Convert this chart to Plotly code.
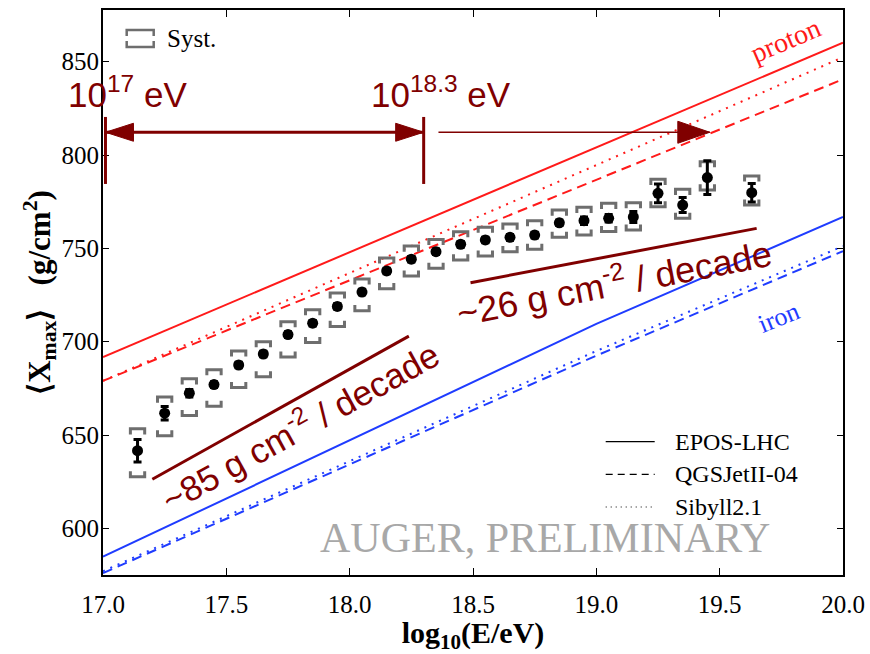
import plotly.graph_objects as go

# ---------------- data ----------------
log_e = [17.14, 17.25, 17.35, 17.45, 17.55, 17.65, 17.75, 17.85, 17.95, 18.05,
         18.15, 18.25, 18.35, 18.45, 18.55, 18.65, 18.75, 18.85, 18.95, 19.05,
         19.15, 19.25, 19.35, 19.45, 19.63]
xmax_mean = [641.6, 661.7, 672.4, 677.0, 687.5, 693.4, 703.8, 709.9, 718.9, 726.6,
             737.9, 744.2, 748.2, 752.2, 754.5, 755.9, 757.1, 763.7, 764.8, 766.1,
             766.8, 779.5, 773.2, 787.9, 779.8]
stat_err = [6.0, 3.6, 2.0, 1.5, 1.5, 1.5, 1.5, 1.5, 1.5, 1.5,
            1.5, 1.5, 1.5, 1.5, 1.5, 1.5, 1.5, 1.5, 2.0, 2.0,
            3.0, 5.0, 4.0, 9.0, 5.0]
sys_up = [11.7, 8.6, 7.7, 8.0, 7.5, 6.6, 6.9, 7.2, 7.2, 7.0,
          7.0, 7.0, 6.6, 6.7, 6.8, 7.1, 7.7, 6.8, 7.2, 8.0,
          7.7, 7.5, 8.4, 8.5, 9.0]
sys_low = [14.0, 12.1, 12.0, 11.6, 12.1, 12.2, 12.0, 10.4, 10.7, 10.0,
           9.5, 9.0, 8.9, 8.4, 8.6, 7.7, 7.6, 7.8, 7.7, 7.1,
           7.0, 7.2, 7.1, 6.6, 6.6]

model_e = [17.0, 19.0, 20.0]
proton_epos = [691.8, 804.0, 860.2]
proton_qgs = [679.0, 786.6, 840.6]
proton_sib = [679.0, 794.8, 852.4]
iron_epos = [584.8, 709.5, 766.8]
iron_qgs = [576.0, 692.5, 748.5]
iron_sib = [577.0, 695.0, 751.2]

model_names = ["EPOS-LHC", "QGSJetII-04", "Sibyll2.1"]

# annotation geometry (data coords)
range_lo, range_hi, arrow_y = 17.01, 18.30, 812.2
bar_y = [784.5, 820.4]
arrow2_x = [18.36, 19.46]
slope1_x, slope1_y = [17.20, 18.24], [626.3, 703.0]
slope2_x, slope2_y = [18.49, 19.65], [731.6, 760.7]

RED = "#ff1a1a"
BLUE = "#1f3cff"
MAROON = "#800000"
GRAY = "#6e6e6e"
SERIF = "Liberation Serif"
SANS = "Liberation Sans"

# plot-area pixel geometry helpers for paper placement
L, R, T, B = 103.3, 26.7, 10, 79
PW, PH = 870 - L - R, 654 - T - B


def px(xp):
    return (xp - L) / PW


def py(yp):
    return (654 - B - yp) / PH


fig = go.Figure()

# model lines
for vals, dash in [(proton_epos, "solid"), (proton_qgs, "10px,6px"), (proton_sib, "2px,6px")]:
    fig.add_trace(go.Scatter(x=model_e, y=vals, mode="lines", showlegend=False,
                             line=dict(color=RED, width=2, dash=dash), hoverinfo="skip"))
for vals, dash in [(iron_epos, "solid"), (iron_qgs, "10px,6px"), (iron_sib, "2px,6px")]:
    fig.add_trace(go.Scatter(x=model_e, y=vals, mode="lines", showlegend=False,
                             line=dict(color=BLUE, width=2, dash=dash), hoverinfo="skip"))

# systematic brackets
hw, leg = 0.029, 3.0
bx, by = [], []
for xe, ym, su, sl in zip(log_e, xmax_mean, sys_up, sys_low):
    top, bot = ym + su, ym - sl
    bx += [xe - hw, xe - hw, xe + hw, xe + hw, None]
    by += [top - leg, top, top, top - leg, None]
    bx += [xe - hw, xe - hw, xe + hw, xe + hw, None]
    by += [bot + leg, bot, bot, bot + leg, None]
fig.add_trace(go.Scatter(x=bx, y=by, mode="lines", showlegend=False, name="Syst.",
                         line=dict(color=GRAY, width=3), hoverinfo="skip"))

# data points
fig.add_trace(go.Scatter(x=log_e, y=xmax_mean, mode="markers", showlegend=False,
                         marker=dict(color="black", size=11),
                         error_y=dict(type="data", array=stat_err, color="black",
                                      thickness=3, width=4)))

# shapes for range arrows
shapes = []
for xv in [range_lo, range_hi]:
    shapes.append(dict(type="line", x0=xv, x1=xv, y0=bar_y[0], y1=bar_y[1],
                       line=dict(color=MAROON, width=3)))
shapes.append(dict(type="line", x0=range_lo, x1=range_hi, y0=arrow_y, y1=arrow_y,
                   line=dict(color=MAROON, width=3)))
shapes.append(dict(type="path", xsizemode="pixel", ysizemode="pixel",
                   xanchor=range_lo, yanchor=arrow_y, path="M0,0 L28,9 L28,-9 Z",
                   fillcolor=MAROON, line=dict(color=MAROON, width=1)))
shapes.append(dict(type="path", xsizemode="pixel", ysizemode="pixel",
                   xanchor=range_hi, yanchor=arrow_y, path="M0,0 L-28,9 L-28,-9 Z",
                   fillcolor=MAROON, line=dict(color=MAROON, width=1)))
shapes.append(dict(type="line", x0=arrow2_x[0], x1=arrow2_x[1], y0=arrow_y, y1=arrow_y,
                   line=dict(color=MAROON, width=1.5)))
shapes.append(dict(type="path", xsizemode="pixel", ysizemode="pixel",
                   xanchor=arrow2_x[1], yanchor=arrow_y, path="M0,0 L-32,11 L-32,-11 Z",
                   fillcolor=MAROON, line=dict(color=MAROON, width=1)))
shapes.append(dict(type="line", x0=slope1_x[0], x1=slope1_x[1], y0=slope1_y[0], y1=slope1_y[1],
                   line=dict(color=MAROON, width=3)))
shapes.append(dict(type="line", x0=slope2_x[0], x1=slope2_x[1], y0=slope2_y[0], y1=slope2_y[1],
                   line=dict(color=MAROON, width=3)))

# Syst. legend icon (paper coords)
ix0, ix1 = px(127), px(154)
iy_top, iy_bot = py(30), py(47)
lg = 6 / PH
shapes.append(dict(type="path", xref="paper", yref="paper",
                   path=f"M{ix0},{iy_top-lg} L{ix0},{iy_top} L{ix1},{iy_top} L{ix1},{iy_top-lg}",
                   line=dict(color=GRAY, width=2.5)))
shapes.append(dict(type="path", xref="paper", yref="paper",
                   path=f"M{ix0},{iy_bot+lg} L{ix0},{iy_bot} L{ix1},{iy_bot} L{ix1},{iy_bot+lg}",
                   line=dict(color=GRAY, width=2.5)))

annotations = [
    dict(x=px(165), y=py(38.5), xref="paper", yref="paper", text="Syst.", showarrow=False,
         xanchor="left", yanchor="middle", font=dict(family=SERIF, size=25, color="black")),
    dict(x=17.10, y=820.8, text="10<sup>17</sup> eV", showarrow=False,
         xanchor="center", yanchor="bottom", font=dict(family=SANS, size=35, color=MAROON)),
    dict(x=18.37, y=820.8, text="10<sup>18.3</sup> eV", showarrow=False,
         xanchor="center", yanchor="bottom", font=dict(family=SANS, size=35, color=MAROON)),
    dict(x=17.797, y=655.3, text="~85 g cm<sup>-2</sup> / decade", showarrow=False,
         textangle=-29, xanchor="center", yanchor="middle",
         font=dict(family=SANS, size=35, color=MAROON)),
    dict(x=19.07, y=732.6, text="~26 g cm<sup>-2</sup> / decade", showarrow=False,
         textangle=-11, xanchor="center", yanchor="middle",
         font=dict(family=SANS, size=36, color=MAROON)),
    dict(x=18.792, y=595.0, text="AUGER, PRELIMINARY", showarrow=False,
         xanchor="center", yanchor="middle", font=dict(family=SERIF, size=42, color="#a8a8a8")),
    dict(x=19.765, y=861.5, text="proton", showarrow=False, textangle=-23,
         xanchor="center", yanchor="middle", font=dict(family=SERIF, size=28, color=RED)),
    dict(x=19.74, y=712.7, text="iron", showarrow=False, textangle=-22,
         xanchor="center", yanchor="middle", font=dict(family=SERIF, size=26, color=BLUE)),
]

# model legend (bottom right), drawn manually
legend_rows = [441.7, 474.3, 507.0]
for name, dash, yrow in zip(model_names, ["solid", "7px,5px", "1px,4px"], legend_rows):
    shapes.append(dict(type="line", xref="paper", yref="paper",
                       x0=px(606), x1=px(655), y0=py(yrow), y1=py(yrow),
                       line=dict(color="black", width=1.2, dash=dash)))
    annotations.append(dict(x=px(673), y=py(yrow), xref="paper", yref="paper", text=name,
                            showarrow=False, xanchor="left", yanchor="middle",
                            font=dict(family=SERIF, size=24, color="black")))

NB = "\u00a0"
fig.update_layout(
    width=870, height=654, autosize=False,
    margin=dict(l=L, r=R, t=T, b=B, autoexpand=False),
    plot_bgcolor="white", paper_bgcolor="white",
    shapes=shapes, annotations=annotations,
    showlegend=False,
    xaxis=dict(range=[17.0, 20.0], tickvals=[17.0, 17.5, 18.0, 18.5, 19.0, 19.5, 20.0],
               ticktext=["17.0", "17.5", "18.0", "18.5", "19.0", "19.5", "20.0"],
               ticks="inside", ticklen=7, tickwidth=1.2, tickcolor="black",
               showline=True, linecolor="black", linewidth=2, mirror="ticks",
               showgrid=False, zeroline=False, ticklabelstandoff=6, automargin=False,
               tickfont=dict(family=SERIF, size=25, color="black"),
               title=dict(text="<b>log<sub>10</sub>(E/eV)</b>", standoff=2,
                          font=dict(family=SERIF, size=30, color="black"))),
    yaxis=dict(range=[575.0, 877.7], tickvals=[600, 650, 700, 750, 800, 850],
               ticks="inside", ticklen=6, tickwidth=1.2, tickcolor="black",
               showline=True, linecolor="black", linewidth=2, mirror="ticks",
               showgrid=False, zeroline=False, ticklabelstandoff=-3, automargin=False,
               tickfont=dict(family=SERIF, size=25, color="black"),
               title=dict(text=f"<b>⟨X<sub>max</sub>⟩{NB*3}(g/cm<sup>2</sup>)</b>{NB*4}",
                          standoff=2, font=dict(family=SERIF, size=31, color="black"))),
)

fig.write_html("out.html")
